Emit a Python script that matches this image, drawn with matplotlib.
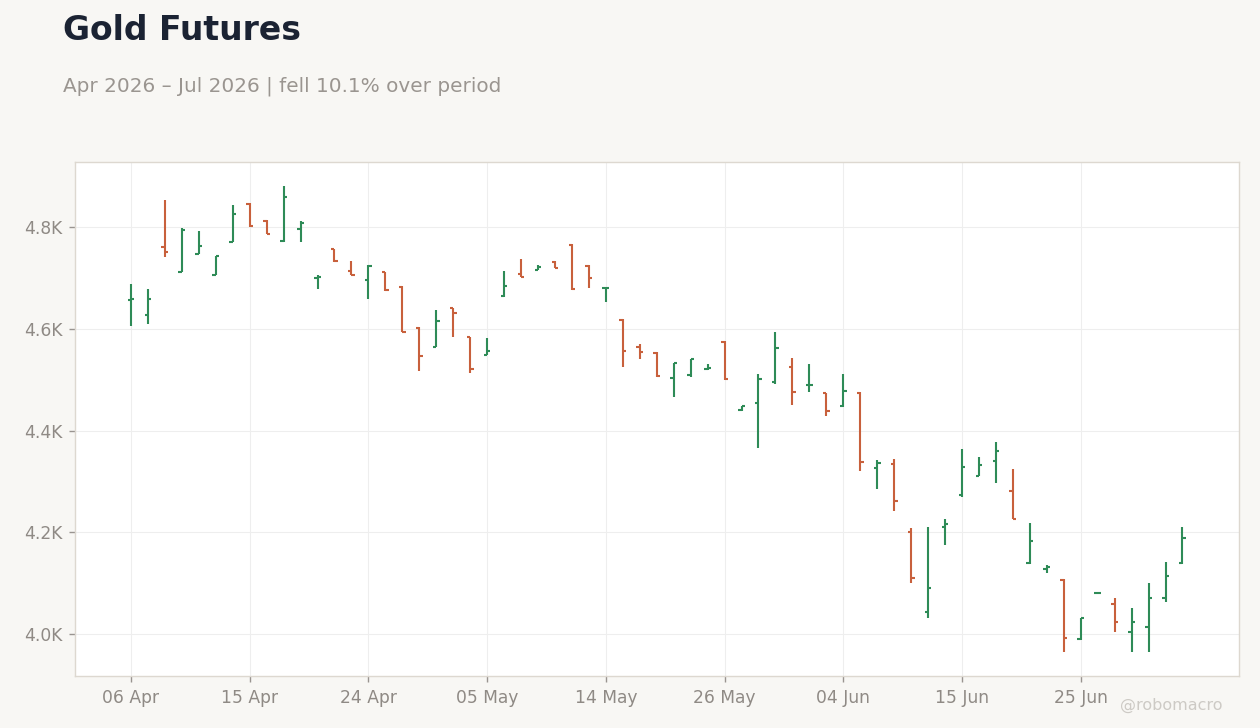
import numpy as np
import pandas as pd
import matplotlib
matplotlib.use("Agg")
import matplotlib.pyplot as plt
from matplotlib.ticker import FuncFormatter

# trading days, US holidays skipped
dates = pd.bdate_range("2026-04-06", periods=63, freq="C",
                       holidays=["2026-05-25", "2026-06-19", "2026-07-03"])

opens = [4657, 4628, 4761, 4712, 4748, 4706, 4771, 4846, 4812, 4773, 4797, 4699, 4756, 4714,
         4696, 4711, 4683, 4601, 4565, 4640, 4583, 4548, 4664, 4707, 4716, 4732, 4764, 4724,
         4680, 4618, 4565, 4553, 4504, 4509, 4521, 4575, 4440, 4455, 4496, 4525, 4489, 4473,
         4448, 4474, 4327, 4335, 4201, 4044, 4211, 4273, 4311, 4341, 4282, 4140, 4128, 4106,
         3990, 4080, 4059, 4005, 4014, 4070, 4140]
highs = [4689, 4678, 4853, 4799, 4792, 4744, 4843, 4847, 4813, 4881, 4811, 4705, 4757, 4733,
         4725, 4712, 4684, 4603, 4638, 4641, 4584, 4582, 4714, 4737, 4725, 4733, 4766, 4725,
         4682, 4619, 4571, 4554, 4533, 4541, 4530, 4576, 4449, 4512, 4593, 4542, 4531, 4474,
         4511, 4475, 4342, 4345, 4208, 4210, 4226, 4364, 4348, 4377, 4324, 4218, 4135, 4108,
         4032, 4082, 4070, 4051, 4100, 4141, 4210]
lows = [4606, 4610, 4742, 4711, 4747, 4705, 4770, 4801, 4786, 4770, 4771, 4679, 4732, 4705,
        4659, 4675, 4593, 4517, 4564, 4584, 4514, 4548, 4663, 4701, 4715, 4719, 4677, 4681,
        4652, 4525, 4541, 4506, 4466, 4506, 4520, 4500, 4439, 4366, 4491, 4451, 4476, 4429,
        4447, 4321, 4286, 4242, 4101, 4032, 4176, 4270, 4310, 4297, 4226, 4137, 4120, 3965,
        3989, 4079, 4004, 3964, 3965, 4063, 4137]
closes = [4659, 4659, 4751, 4794, 4763, 4744, 4826, 4802, 4787, 4860, 4808, 4701, 4733, 4706,
          4724, 4676, 4594, 4547, 4616, 4631, 4521, 4557, 4685, 4702, 4722, 4720, 4678, 4700,
          4681, 4556, 4555, 4507, 4533, 4541, 4523, 4501, 4449, 4502, 4562, 4476, 4490, 4439,
          4478, 4338, 4337, 4262, 4111, 4091, 4216, 4329, 4333, 4360, 4227, 4183, 4132, 3993,
          4032, 4081, 4024, 4024, 4070, 4115, 4189]

UP = "#2e8b57"
DOWN = "#c8603c"
BG = "#f8f7f4"

x = np.arange(len(dates))
o = np.array(opens); h = np.array(highs); l = np.array(lows); c = np.array(closes)
cols = [UP if cc >= oo else DOWN for oo, cc in zip(o, c)]

fig = plt.figure(figsize=(12.6, 7.28), dpi=100, facecolor=BG)
ax = fig.add_axes([0.0595, 0.0714, 0.9238, 0.7061])
ax.set_facecolor("white")

tick = 0.2
ax.vlines(x, l, h, colors=cols, linewidth=1.5)
ax.hlines(o, x - tick, x, colors=cols, linewidth=1.5)
ax.hlines(c, x, x + tick, colors=cols, linewidth=1.5)

ax.set_xlim(-3.3, 65.33)
ax.set_ylim(3917.5, 4928)

pos = x[::7]
ax.set_xticks(pos)
ax.set_xticklabels([dates[i].strftime("%d %b") for i in pos])
ax.set_yticks([4000, 4200, 4400, 4600, 4800])
ax.yaxis.set_major_formatter(FuncFormatter(lambda v, p: f"{v/1000:.1f}K"))

ax.grid(True, color="#eeeeee", linewidth=0.8)
ax.set_axisbelow(True)
for s in ax.spines.values():
    s.set_color("#ddd8d0")
    s.set_linewidth(1)
ax.tick_params(colors="#8f8a85", labelsize=12.3, length=4, width=1, pad=5)
ax.tick_params(axis="both", color="#999490")

fig.text(0.05, 0.945, "Gold Futures", fontsize=23.8, fontweight="bold", color="#1b2333",
         ha="left", va="baseline")
fig.text(0.05, 0.874, "Apr 2026 \u2013 Jul 2026 | fell 10.1% over period", fontsize=14.4,
         color="#9a9590", ha="left", va="baseline")
fig.text(0.97, 0.025, "@robomacro", fontsize=11.5, color="#cdcac5", ha="right", va="baseline")

fig.savefig("out.png", dpi=100, facecolor=BG)
